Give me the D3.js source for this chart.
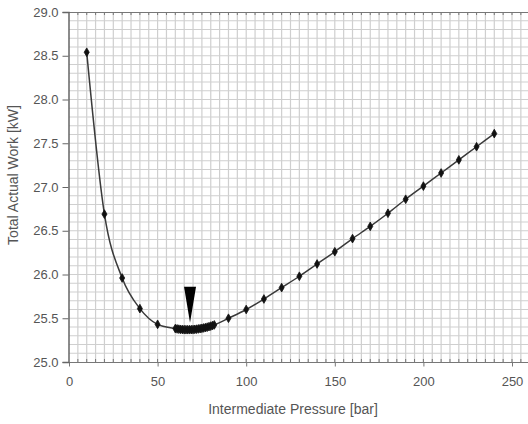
<!DOCTYPE html>
<html>
<head>
<meta charset="utf-8">
<script src="https://cdn.jsdelivr.net/npm/d3@7"></script>
<style>
  body { margin: 0; background: #fff; }
  text { font-family: "Liberation Sans", Arial, sans-serif; fill: #555; }
</style>
</head>
<body>
<svg></svg>
<script>
// intermediate pressure [bar] and total actual work [kW]
const pressure = [10, 20, 30, 40, 50,
    60, 61, 62, 63, 64, 65, 66, 67, 68, 69, 70, 71, 72, 73, 74, 75, 76, 77, 78, 79, 80, 81, 82,
    90, 100, 110, 120, 130, 140, 150, 160, 170, 180, 190, 200, 210, 220, 230, 240];
const work = [28.54, 26.69, 25.96, 25.61, 25.43,
    25.382, 25.378, 25.375, 25.373, 25.371, 25.370, 25.369, 25.369, 25.369, 25.370, 25.371,
    25.373, 25.375, 25.378, 25.381, 25.385, 25.389, 25.393, 25.398, 25.404, 25.410, 25.417, 25.424,
    25.50, 25.60, 25.72, 25.85, 25.98, 26.12, 26.26, 26.41, 26.55, 26.70, 26.86, 27.01, 27.16, 27.31, 27.46, 27.61];

const xTicks = [0, 50, 100, 150, 200, 250];
const yTicks = [25.0, 25.5, 26.0, 26.5, 27.0, 27.5, 28.0, 28.5, 29.0];

// arrow pointing at the optimum
const arrowAt = 68.3, arrowTop = 25.86, arrowTip = 25.45;

const W = 528, H = 424;
const svg = d3.select("svg").attr("width", W).attr("height", H);

const x = d3.scaleLinear().domain([0, 250]).range([69, 512]);
const y = d3.scaleLinear().domain([25, 29]).range([362, 12]);

// grid
const grid = svg.append("g");
grid.selectAll(".vg")
    .data(d3.range(5, 265, 5))
    .enter().append("line")
    .attr("x1", d => x(d)).attr("x2", d => x(d))
    .attr("y1", y(29)).attr("y2", y(25))
    .attr("stroke", "#cfcfcf").attr("stroke-width", 1.2);
grid.selectAll(".hg")
    .data(d3.range(1, 40).map(i => 25 + i * 0.1))
    .enter().append("line")
    .attr("x1", x(0)).attr("x2", W)
    .attr("y1", d => y(d)).attr("y2", d => y(d))
    .attr("stroke", "#cfcfcf").attr("stroke-width", 1.2);

// top border with small ticks
svg.append("line")
    .attr("x1", x(0)).attr("x2", W)
    .attr("y1", y(29) + 0.5).attr("y2", y(29) + 0.5)
    .attr("stroke", "#777");
svg.selectAll(".tt")
    .data(d3.range(5, 265, 5))
    .enter().append("line")
    .attr("x1", d => x(d)).attr("x2", d => x(d))
    .attr("y1", y(29)).attr("y2", y(29) + 3)
    .attr("stroke", "#777");

// x axis
const xAxis = svg.append("g")
    .attr("transform", `translate(0,${y(25) + 0.5})`)
    .call(d3.axisBottom(x).tickValues(xTicks).tickSize(4).tickPadding(10).tickFormat(d3.format("d")));
xAxis.select(".domain").attr("stroke", "#777").attr("d", `M${x(0)},0H${W}`);
xAxis.selectAll(".tick line").attr("stroke", "#777");
xAxis.selectAll("text").attr("font-size", 13).attr("fill", "#555");
svg.selectAll(".bt")
    .data(d3.range(5, 265, 5))
    .enter().append("line")
    .attr("x1", d => x(d)).attr("x2", d => x(d))
    .attr("y1", y(25) - 3).attr("y2", y(25))
    .attr("stroke", "#777");

// y axis
const yAxis = svg.append("g")
    .attr("transform", `translate(${x(0) - 0.5},0)`)
    .call(d3.axisLeft(y).tickValues(yTicks).tickSize(6).tickPadding(4).tickFormat(d3.format(".1f")));
yAxis.select(".domain").attr("stroke", "#666").attr("stroke-width", 1.5);
yAxis.selectAll(".tick line").attr("stroke", "#666");
yAxis.selectAll("text").attr("font-size", 13).attr("fill", "#555");

// titles
svg.append("text")
    .attr("x", 293).attr("y", 414)
    .attr("text-anchor", "middle")
    .attr("font-size", 14)
    .text("Intermediate Pressure [bar]");
svg.append("text")
    .attr("transform", `translate(18,175) rotate(-90)`)
    .attr("text-anchor", "middle")
    .attr("font-size", 14)
    .text("Total Actual Work [kW]");

// curve
const pts = pressure.map((p, i) => [p, work[i]]);
svg.append("path")
    .datum(pts)
    .attr("fill", "none")
    .attr("stroke", "#3a3a3a")
    .attr("stroke-width", 1.5)
    .attr("d", d3.line().x(d => x(d[0])).y(d => y(d[1])).curve(d3.curveMonotoneX));

svg.selectAll(".pt")
    .data(pts)
    .enter().append("path")
    .attr("transform", d => `translate(${x(d[0])},${y(d[1])})`)
    .attr("d", d3.symbol().type(d3.symbolDiamond).size(22))
    .attr("fill", "#111")
    .attr("stroke", "#111")
    .attr("stroke-width", 0.8);

// arrow
svg.append("path")
    .attr("d", `M${x(arrowAt) - 6},${y(arrowTop)}L${x(arrowAt) + 6},${y(arrowTop)}L${x(arrowAt)},${y(arrowTip)}Z`)
    .attr("fill", "#000");
</script>
</body>
</html>
